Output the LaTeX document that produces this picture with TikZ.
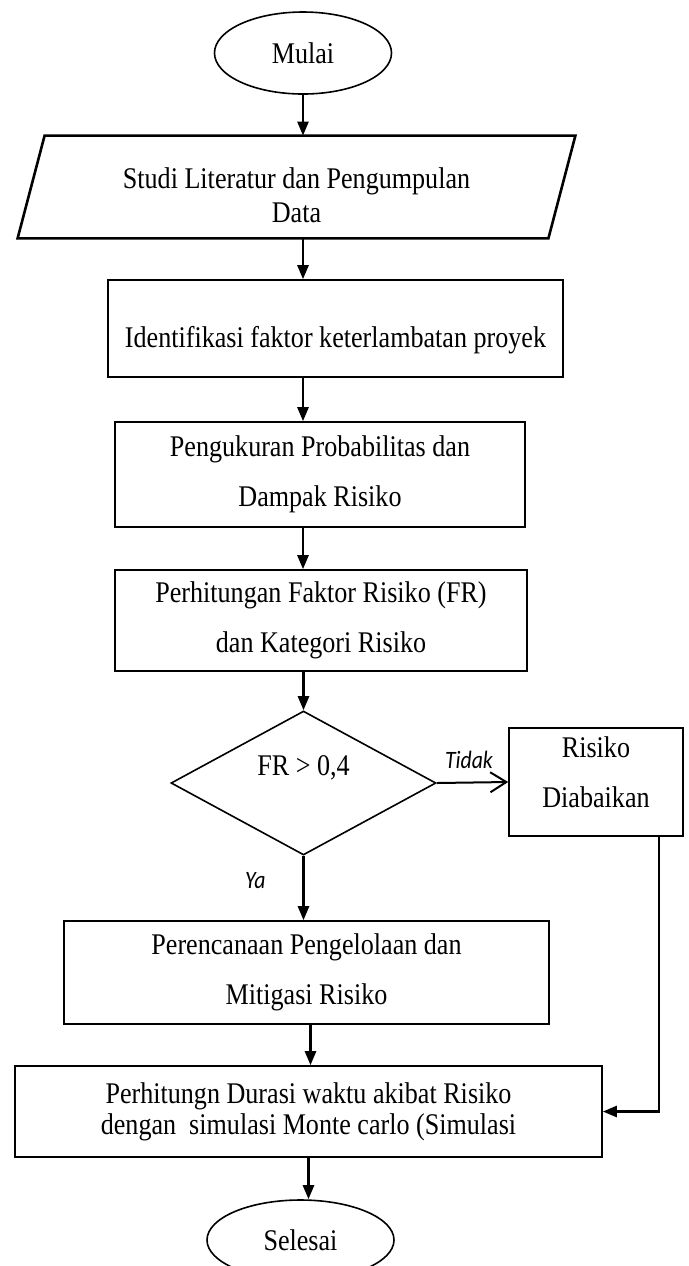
\documentclass[tikz,border=0pt]{standalone}
\usepackage{fontspec}
\setmainfont{Liberation Serif}[FakeStretch=0.87]
\newfontfamily\calibri{Carlito}[FakeStretch=0.87]
\usetikzlibrary{arrows.meta, positioning, shapes.geometric}

\begin{document}
\begin{tikzpicture}[x=0.5pt, y=-0.5pt,
		font=\fontsize{15}{18}\selectfont,
		terminal/.style={draw, ellipse, line width=0.8pt, inner sep=0pt},
		proses/.style={draw, rectangle, line width=0.8pt, align=center, inner sep=0pt},
		keputusan/.style={draw, diamond, line width=0.8pt, inner sep=0pt},
		panah/.style={-{Triangle[length=7pt,width=5.5pt]}, line width=1.3pt},
		jawab/.style={font=\calibri\itshape\fontsize{12.5}{15}\selectfont}]
		\useasboundingbox (0,0) rectangle (689,1266);
		%draw start and end
		\node[terminal, minimum width=88.5pt, minimum height=41pt] (mulai) at (303,53) {Mulai};
		\node[terminal, minimum width=93.5pt, minimum height=40pt] (selesai) at (300.5,1240) {Selesai};
		%draw input
		\node[minimum width=278.5pt, minimum height=51pt, inner sep=0pt,
			label={[align=center, yshift=-4pt]center:{Studi Literatur dan Pengumpulan\\[-1pt]Data}}] (studi) at (296.5,187) {};
		\draw[line width=1.3pt] ([xshift=13.5pt]studi.north west) -- (studi.north east)
			-- ([xshift=-13.5pt]studi.south east) -- (studi.south west) -- cycle;
		%draw process boxes
		\node[proses, minimum width=227.5pt, minimum height=48.5pt,
			label={[yshift=-6pt]center:Identifikasi faktor keterlambatan proyek}] (ident) at (335.5,328.5) {};
		\node[proses, minimum width=205pt, minimum height=52.5pt] (ukur) at (320,474.5) {Pengukuran Probabilitas dan\\[7pt]Dampak Risiko};
		\node[proses, minimum width=206pt, minimum height=50.5pt] (hitung) at (321,620.5) {Perhitungan Faktor Risiko (FR)\\[7pt]dan Kategori Risiko};
		\node[keputusan, minimum width=132.5pt, minimum height=72pt,
			label={[yshift=7.5pt]center:FR > 0,4}] (cek) at (303.5,783) {};
		\node[proses, minimum width=87pt, minimum height=54pt,
			label={[align=center, yshift=5pt]center:{Risiko\\[7pt]Diabaikan}}] (abai) at (596,782) {};
		\node[proses, minimum width=242.5pt, minimum height=51.5pt] (rencana) at (306.5,972.5) {Perencanaan Pengelolaan dan\\[7pt]Mitigasi Risiko};
		\node[proses, minimum width=293.5pt, minimum height=45.5pt] (durasi) at (308.5,1111.5) {Perhitungn Durasi waktu akibat Risiko\\[-2.5pt]dengan\ \ simulasi Monte carlo (Simulasi};
		%draw arrows
		\draw[panah] (mulai.south) -- (mulai.south |- studi.north);
		\draw[panah] (mulai.south |- studi.south) -- (mulai.south |- ident.north);
		\draw[panah] (mulai.south |- ident.south) -- (mulai.south |- ukur.north);
		\draw[panah] (mulai.south |- ukur.south) -- (mulai.south |- hitung.north);
		\draw[panah] (cek.north |- hitung.south) -- (cek.north);
		\draw[line width=1pt, -{Straight Barb[length=8pt,width=10pt]}] (cek.east) -- node[jawab, above=3pt, pos=0.45]{Tidak} (abai.west);
		\draw[panah] (cek.south) -- node[jawab, pos=0.38, left=15pt]{Ya} (cek.south |- rencana.north);
		\draw[panah] ([xshift=2pt]rencana.south) -- ([xshift=2pt]rencana.south |- durasi.north);
		\draw[panah] (durasi.south) -- (durasi.south |- selesai.north);
		\draw[panah] ([xshift=31.5pt]abai.south) |- (durasi.east);
\end{tikzpicture}
\end{document}
